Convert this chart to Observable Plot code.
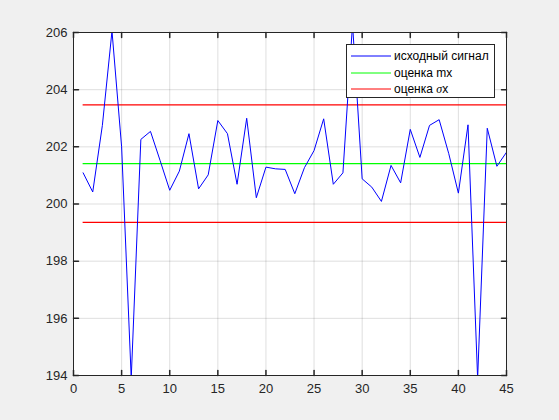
<!DOCTYPE html>
<html>
<head>
<meta charset="utf-8">
<script src="https://cdn.jsdelivr.net/npm/d3@7"></script>
<script src="https://cdn.jsdelivr.net/npm/@observablehq/plot@0.6"></script>
<style>
  html, body { margin: 0; padding: 0; background: #f0f0f0; }
  #wrap { position: relative; width: 559px; height: 420px; background: #f0f0f0; }
  #legend { position: absolute; left: 346px; top: 44px; width: 147px; height: 52px;
    border: 1px solid #262626; background: #fff; font-family: "Liberation Sans", Arial, sans-serif;
    font-size: 12px; color: #000; }
  .row { position: absolute; left: 0; height: 16px; display: flex; align-items: center; }
  .row svg { margin-left: 4px; margin-right: 3px; }
  .sig { font-family: "Liberation Serif", serif; font-style: italic; }
</style>
</head>
<body>
<div id="wrap"></div>
<script>
// ---- data ----
const sampleIndex = [1,2,3,4,5,6,7,8,9,10,11,12,13,14,15,16,17,18,19,20,21,22,23,24,25,26,27,28,29,30,31,32,33,34,35,36,37,38,39,40,41,42,43,44,45];
const signal = [201.09,200.42,202.75,206.05,202.0,193.9,202.26,202.54,201.52,200.48,
                201.15,202.46,200.53,201.02,202.92,202.46,200.69,203.0,200.22,201.29,
                201.23,201.21,200.36,201.27,201.87,202.98,200.69,201.09,206.3,200.88,
                200.59,200.09,201.35,200.74,202.61,201.63,202.75,202.95,201.76,200.38,
                202.77,193.9,202.65,201.32,201.81];
const mxEstimate = 201.41;
const sigmaUpper = 203.47;
const sigmaLower = 199.36;
const lineStart = 1, lineEnd = 45;
const xTicks = [0,5,10,15,20,25,30,35,40,45];
const yTicks = [194,196,198,200,202,204,206];
const legendLabels = ["исходный сигнал", "оценка mx", "оценка σx"];
const colors = {signal: "#0000ff", mx: "#00ff00", sigma: "#ff0000"};

const signalData = sampleIndex.map((x, i) => ({x, y: signal[i]}));
const hLines = [
  {y: mxEstimate, c: colors.mx},
  {y: sigmaUpper, c: colors.sigma},
  {y: sigmaLower, c: colors.sigma}
];

const axisColor = "#262626";
const tickShape = {draw(ctx, l) { ctx.moveTo(0, 0); ctx.lineTo(0, -l); }};

const chart = Plot.plot({
  width: 559, height: 420,
  marginLeft: 73, marginRight: 53, marginTop: 32, marginBottom: 45,
  style: {background: "#f0f0f0", fontFamily: "'Liberation Sans', Arial, sans-serif", fontSize: "13px", color: axisColor},
  x: {domain: [0, 45], ticks: xTicks},
  y: {domain: [194, 206], ticks: yTicks},
  marks: [
    Plot.frame({fill: "white", stroke: "none"}),
    Plot.gridX(xTicks, {stroke: axisColor, strokeOpacity: 0.15}),
    Plot.gridY(yTicks, {stroke: axisColor, strokeOpacity: 0.15}),
    Plot.axisX(xTicks, {tickSize: 0, tickPadding: 8, label: null, fill: axisColor}),
    Plot.axisY(yTicks, {tickSize: 0, tickPadding: 6, label: null, fill: axisColor}),
    ...hLines.map(h => Plot.ruleY([h], {y: "y", x1: lineStart, x2: lineEnd, stroke: h.c, strokeWidth: 1.2})),
    Plot.line(signalData, {x: "x", y: "y", stroke: colors.signal, strokeWidth: 1, clip: true}),
    Plot.vector(xTicks, {x: d => d, y: 194, length: 5, rotate: 0, anchor: "start", shape: tickShape, stroke: axisColor}),
    Plot.vector(xTicks, {x: d => d, y: 206, length: 5, rotate: 180, anchor: "start", shape: tickShape, stroke: axisColor}),
    Plot.vector(yTicks, {x: 0, y: d => d, length: 5, rotate: 90, anchor: "start", shape: tickShape, stroke: axisColor}),
    Plot.vector(yTicks, {x: 45, y: d => d, length: 5, rotate: -90, anchor: "start", shape: tickShape, stroke: axisColor}),
    Plot.frame({stroke: axisColor, strokeWidth: 1})
  ]
});
const wrap = document.getElementById("wrap");
wrap.appendChild(chart);

const legend = document.createElement("div");
legend.id = "legend";
const lcols = [colors.signal, colors.mx, colors.sigma];
legendLabels.forEach((lab, i) => {
  const row = document.createElement("div");
  row.className = "row";
  row.style.top = (3 + i * 16.7) + "px";
  const txt = i === 2 ? 'оценка <span class="sig">σ</span>x' : lab;
  row.innerHTML = `<svg width="40" height="4"><line x1="0" x2="40" y1="2" y2="2" stroke="${lcols[i]}" stroke-width="1"/></svg><span>${txt}</span>`;
  legend.appendChild(row);
});
wrap.appendChild(legend);
</script>
</body>
</html>
